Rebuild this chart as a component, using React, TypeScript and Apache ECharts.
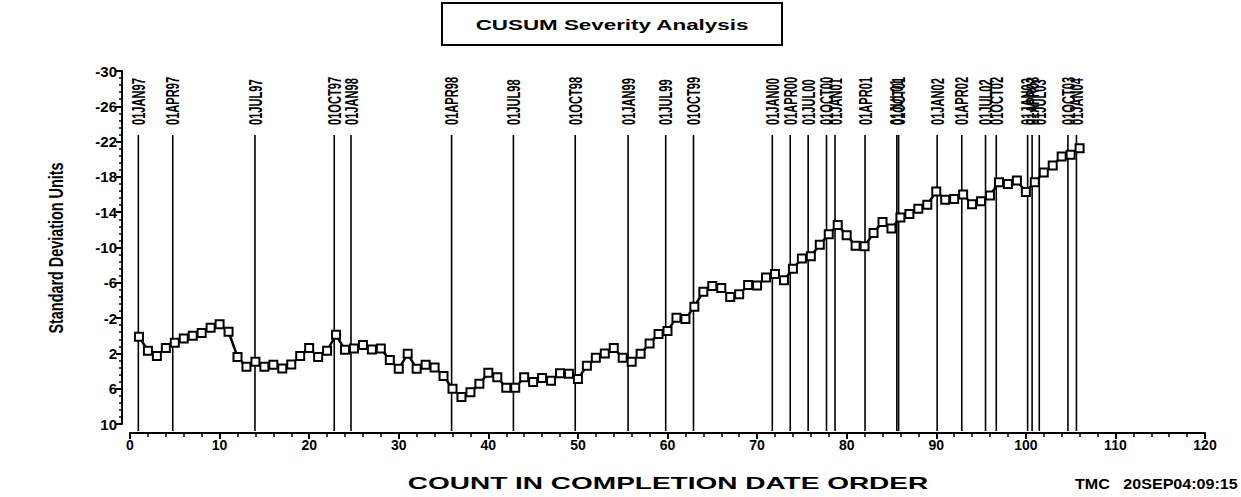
import React, { useEffect, useRef } from "react";
import * as echarts from "echarts";

const counts: number[] = Array.from({ length: 106 }, (_, i) => i + 1);
const severity: number[] = [
  0.1, 1.7, 2.3, 1.4, 0.8, 0.3, 0.0, -0.3, -0.9, -1.3,
  -0.45, 2.4, 3.5, 2.95, 3.5, 3.3, 3.7, 3.25, 2.3, 1.4,
  2.4, 1.7, -0.1, 1.6, 1.45, 1.05, 1.55, 1.45, 2.75, 3.75,
  2.05, 3.75, 3.3, 3.6, 4.55, 6.0, 6.95, 6.4, 5.45, 4.2,
  4.7, 5.9, 5.9, 4.7, 5.25, 4.8, 5.1, 4.25, 4.3, 4.9,
  3.4, 2.5, 2.0, 1.4, 2.5, 2.95, 2.05, 0.87, -0.2, -0.55,
  -2.05, -1.9, -3.3, -5.0, -5.65, -5.4, -4.4, -4.7, -5.75, -5.7,
  -6.6, -7.0, -6.3, -7.6, -8.75, -9.0, -10.3, -11.5, -12.55, -11.4,
  -10.2, -10.15, -11.65, -12.9, -12.15, -13.4, -13.8, -14.4, -14.85, -16.35,
  -15.4, -15.5, -16.0, -14.9, -15.25, -15.9, -17.4, -17.2, -17.6, -16.3,
  -17.4, -18.5, -19.3, -20.3, -20.5, -21.25,
];

const refDates: string[] = [
  "01JAN97", "01APR97", "01JUL97", "01OCT97", "01JAN98", "01APR98", "01JUL98",
  "01OCT98", "01JAN99", "01JUL99", "01OCT99", "01JAN00", "01APR00", "01JUL00",
  "01OCT00", "01JAN01", "01APR01", "01JUL01", "01OCT01", "01JAN02", "01APR02",
  "01JUL02", "01OCT02", "01JAN03", "01APR03", "01JUL03", "01OCT03", "01JAN04",
];
const refCounts: number[] = [
  0.93, 4.77, 13.95, 22.8, 24.67, 35.9, 42.8,
  49.7, 55.6, 59.8, 62.9, 71.7, 73.7, 75.7,
  77.75, 78.7, 82.05, 85.6, 85.8, 90.1, 92.85,
  95.5, 96.7, 100.2, 100.7, 101.5, 104.7, 105.65,
];

const xTicks = { min: 0, max: 120, interval: 10 };
const yTicks = { min: -30, max: 10, interval: 4 };

const FONT = "'Liberation Sans', Arial, Helvetica, sans-serif";

export default function App() {
  const ref = useRef<HTMLDivElement>(null);
  useEffect(() => {
    if (!ref.current) return;
    const chart = echarts.init(ref.current, null, { renderer: "svg" });
    const option: any = {
      animation: false,
      backgroundColor: "#fff",
      grid: { left: 130, right: 36, top: 71, bottom: 73 },
      xAxis: {
        type: "value",
        min: xTicks.min,
        max: xTicks.max,
        interval: xTicks.interval,
        offset: 9,
        axisLine: { show: true, onZero: false, lineStyle: { color: "#000", width: 2 } },
        axisTick: { show: true, length: 6, lineStyle: { color: "#000", width: 2 } },
        minorTick: { show: true, splitNumber: 5, length: 4, lineStyle: { color: "#000", width: 1.5 } },
        splitLine: { show: false },
        axisLabel: { color: "#000", fontSize: 14, fontWeight: "bold", fontFamily: FONT, margin: 5 },
      },
      yAxis: {
        type: "value",
        inverse: true,
        min: yTicks.min,
        max: yTicks.max,
        interval: yTicks.interval,
        offset: 8,
        axisLine: { show: true, onZero: false, lineStyle: { color: "#000", width: 2 } },
        axisTick: { show: true, length: 6, lineStyle: { color: "#000", width: 2 } },
        minorTick: { show: true, splitNumber: 5, length: 3, lineStyle: { color: "#000", width: 1.5 } },
        splitLine: { show: false },
        axisLabel: { color: "#000", fontSize: 15, fontWeight: "bold", fontFamily: FONT, margin: 5 },
      },
      graphic: [
        {
          type: "rect",
          shape: { x: 442, y: 3, width: 340, height: 42 },
          style: { fill: "#fff", stroke: "#000", lineWidth: 2 },
        },
        {
          type: "text",
          x: 612,
          y: 25,
          scaleX: 1.6,
          style: {
            text: "CUSUM Severity Analysis",
            fontSize: 14,
            fontWeight: "bold",
            fontFamily: FONT,
            fill: "#000",
            align: "center",
            verticalAlign: "middle",
          },
        },
        {
          type: "text",
          x: 56,
          y: 248,
          rotation: Math.PI / 2,
          scaleX: 0.8,
          scaleY: 1.1,
          style: {
            text: "Standard Deviation Units",
            fontSize: 18,
            fontWeight: "bold",
            fontFamily: FONT,
            fill: "#000",
            align: "center",
            verticalAlign: "middle",
          },
        },
        {
          type: "text",
          x: 668,
          y: 483,
          scaleX: 1.75,
          style: {
            text: "COUNT IN COMPLETION DATE ORDER",
            fontSize: 16,
            fontWeight: "bold",
            fontFamily: FONT,
            fill: "#000",
            align: "center",
            verticalAlign: "middle",
          },
        },
        {
          type: "text",
          x: 1075,
          y: 484,
          scaleX: 1.15,
          style: {
            text: "TMC   20SEP04:09:15",
            fontSize: 14,
            fontWeight: "bold",
            fontFamily: FONT,
            fill: "#000",
            align: "left",
            verticalAlign: "middle",
          },
        },
      ],
      series: [
        {
          type: "custom",
          clip: false,
          silent: true,
          z: 1,
          data: refCounts.map((c, i) => [c, i]),
          renderItem: (params: any, api: any) => {
            const c = api.value(0);
            const idx = api.value(1);
            const top = api.coord([c, yTicks.min]);
            const bottom = api.coord([c, yTicks.max]);
            return {
              type: "group",
              children: [
                {
                  type: "line",
                  shape: { x1: top[0], y1: top[1] + 64, x2: top[0], y2: bottom[1] + 7 },
                  style: { stroke: "#000", lineWidth: 1.6 },
                },
                {
                  type: "text",
                  x: top[0],
                  y: top[1] + 54,
                  rotation: Math.PI / 2,
                  scaleX: 0.74,
                  scaleY: 1.2,
                  style: {
                    text: refDates[idx],
                    fontSize: 15,
                    fontWeight: "bold",
                    fontFamily: FONT,
                    fill: "#000",
                    align: "left",
                    verticalAlign: "middle",
                  },
                },
              ],
            };
          },
        },
        {
          type: "line",
          z: 3,
          data: counts.map((c, i) => [c, severity[i]]),
          symbol: "rect",
          symbolSize: 8,
          showSymbol: true,
          lineStyle: { color: "#000", width: 2.5 },
          itemStyle: { color: "#fff", borderColor: "#000", borderWidth: 2 },
        },
      ],
    };
    chart.setOption(option);
    return () => chart.dispose();
  }, []);
  return (
    <div
      ref={ref}
      style={{ position: "fixed", left: 0, top: 0, width: 1241, height: 497, background: "#fff" }}
    />
  );
}
